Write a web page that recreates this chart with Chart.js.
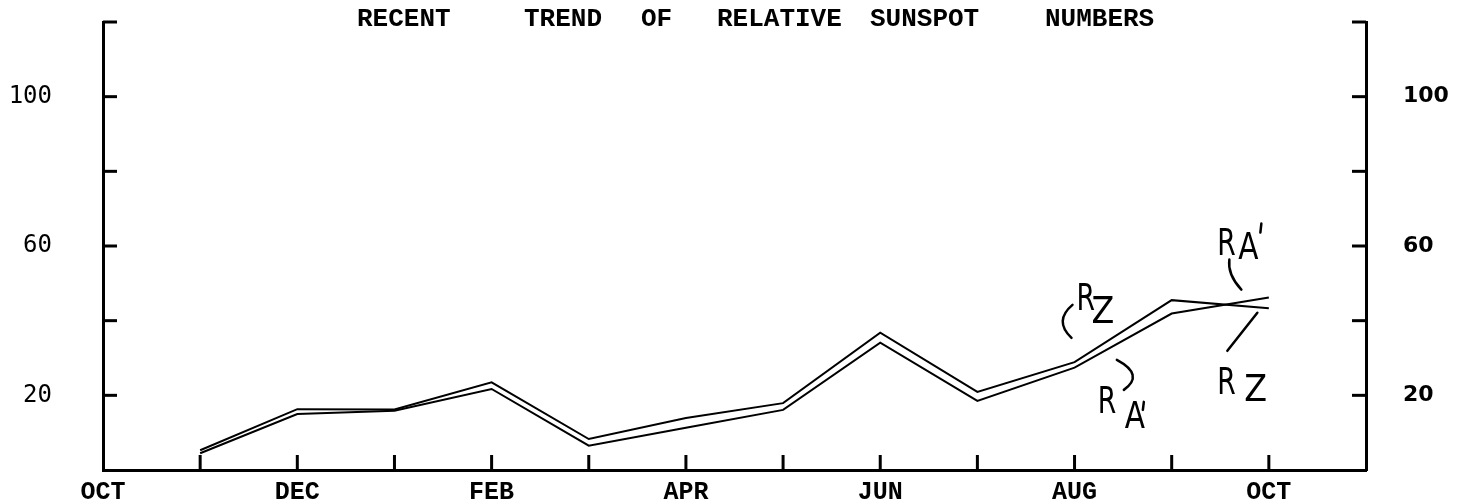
<!DOCTYPE html>
<html><head><meta charset="utf-8">
<script src="https://cdn.jsdelivr.net/npm/chart.js@4.4.0/dist/chart.umd.min.js"></script>
<style>html,body{margin:0;background:#fff}#wrap{width:1468px;height:503px}</style>
</head><body>
<div id="wrap"><canvas id="c" width="1468" height="503"></canvas></div>
<script>
// months along the bottom, OCT (start) .. NOV (axis end)
const months=['OCT','NOV','DEC','JAN','FEB','MAR','APR','MAY','JUN','JUL','AUG','SEP','OCT','NOV'];
const dataMonths=[1,2,3,4,5,6,7,8,9,10,11,12];
const rz=[5.3,16.3,16.2,23.5,8.3,13.9,17.9,36.8,20.9,28.9,45.5,43.3];
const ra=[4.5,15.0,15.9,21.7,6.5,11.3,16.1,34.1,18.5,27.4,41.9,46.2];
const yTicks=[20,40,60,80,100,120];
const yLabels=[20,60,100];
const titleWords=['RECENT','TREND','OF','RELATIVE','SUNSPOT','NUMBERS'];
const titleX=[357,524,641,717,870,1045];

// hand written labels: anchor in chart units (month, value), glyphs in px from anchor
const notes=[
  {m:10.02,v:42.9,g:[['R',0,0,0.72],['Z',15,13,0.9]],curve:[-4,-5,-23,11,-5,28]},
  {m:10.24,v:15.3,g:[['R',0,0,0.72],['A',27,15,0.8]],tick:[46,-11,45,-3],curve:[19,-53,47,-38,26,-23]},
  {m:11.47,v:57.7,g:[['R',0,0,0.72],['A',21,4,0.8]],tick:[44,-31,43,-22],curve:[12,5,10,20,24,35]},
  {m:11.47,v:20.4,g:[['R',0,0,0.72],['Z',27,7,0.9]],line:[40,-81,10,-43]}
];

const frame={
  id:'frame',
  afterDraw(chart){
    const c=chart.ctx,x=chart.scales.x,y=chart.scales.y,y1=chart.scales.y1;
    c.save();
    c.strokeStyle='#000';c.fillStyle='#000';c.lineWidth=3;c.lineCap='butt';
    // inward tick marks
    yTicks.forEach(v=>{
      let p=y.getPixelForValue(v);
      c.beginPath();c.moveTo(x.left,p);c.lineTo(x.left+14,p);c.stroke();
      p=y1.getPixelForValue(v);
      c.beginPath();c.moveTo(x.right,p);c.lineTo(x.right-14,p);c.stroke();
    });
    dataMonths.forEach(m=>{
      let p=x.getPixelForValue(m);
      c.beginPath();c.moveTo(p,y.bottom);c.lineTo(p,y.bottom-15);c.stroke();
    });
    // title
    c.font='bold 26px "Liberation Mono"';c.textBaseline='alphabetic';c.textAlign='left';
    titleWords.forEach((w,i)=>c.fillText(w,titleX[i],26));
    // annotations
    c.lineWidth=2.5;c.lineCap='round';
    notes.forEach(n=>{
      const ax=x.getPixelForValue(n.m),ay=y.getPixelForValue(n.v);
      n.g.forEach(([t,dx,dy,sx])=>{
        c.save();c.translate(ax+dx,ay+dy);c.scale(sx,1);
        c.font='37px "DejaVu Sans"';c.fillText(t,0,0);c.restore();
      });
      if(n.tick){c.beginPath();c.moveTo(ax+n.tick[0],ay+n.tick[1]);c.lineTo(ax+n.tick[2],ay+n.tick[3]);c.stroke();}
      if(n.line){c.beginPath();c.moveTo(ax+n.line[0],ay+n.line[1]);c.lineTo(ax+n.line[2],ay+n.line[3]);c.stroke();}
      if(n.curve){const k=n.curve;c.beginPath();c.moveTo(ax+k[0],ay+k[1]);c.quadraticCurveTo(ax+k[2],ay+k[3],ax+k[4],ay+k[5]);c.stroke();}
    });
    c.restore();
  }
};

new Chart(document.getElementById('c').getContext('2d'),{
  type:'line',
  data:{datasets:[
    {label:'RZ',data:dataMonths.map((m,i)=>({x:m,y:rz[i]})),borderColor:'#000',borderWidth:2,pointRadius:0,tension:0,fill:false},
    {label:"RA'",data:dataMonths.map((m,i)=>({x:m,y:ra[i]})),borderColor:'#000',borderWidth:2,pointRadius:0,tension:0,fill:false}
  ]},
  options:{
    responsive:false,animation:false,
    layout:{padding:{top:22,left:0,right:0,bottom:0}},
    plugins:{legend:{display:false},tooltip:{enabled:false},title:{display:false}},
    scales:{
      x:{type:'linear',min:0,max:13,
        grid:{display:false,drawTicks:true,tickLength:8},border:{display:true,color:'#000',width:3},
        afterBuildTicks:s=>{s.ticks=months.map((m,i)=>({value:i}));},
        ticks:{autoSkip:false,maxRotation:0,padding:0,color:'#000',
          font:{family:'"Liberation Mono"',size:25,weight:'bold'},
          callback:v=>(v%2===0&&v<13)?months[v]:''},
        afterFit:s=>{s.height=33;}},
      y:{position:'left',min:0,max:120,
        grid:{display:false,drawTicks:true,tickLength:51},border:{display:true,color:'#000',width:3},
        afterBuildTicks:s=>{s.ticks=yTicks.map(v=>({value:v}));},
        ticks:{padding:0,color:'#000',font:{family:'"DejaVu Sans Mono"',size:24},callback:v=>yLabels.includes(v)?String(v):''},
        afterFit:s=>{s.width=103;}},
      y1:{position:'right',min:0,max:120,
        grid:{display:false,drawTicks:true,tickLength:37},border:{display:true,color:'#000',width:3},
        afterBuildTicks:s=>{s.ticks=yTicks.map(v=>({value:v}));},
        ticks:{padding:0,color:'#000',font:{family:'"DejaVu Sans"',size:22,weight:'bold'},callback:v=>yLabels.includes(v)?String(v):''},
        afterFit:s=>{s.width=102;}}
    }
  },
  plugins:[frame]
});
</script>
</body></html>
